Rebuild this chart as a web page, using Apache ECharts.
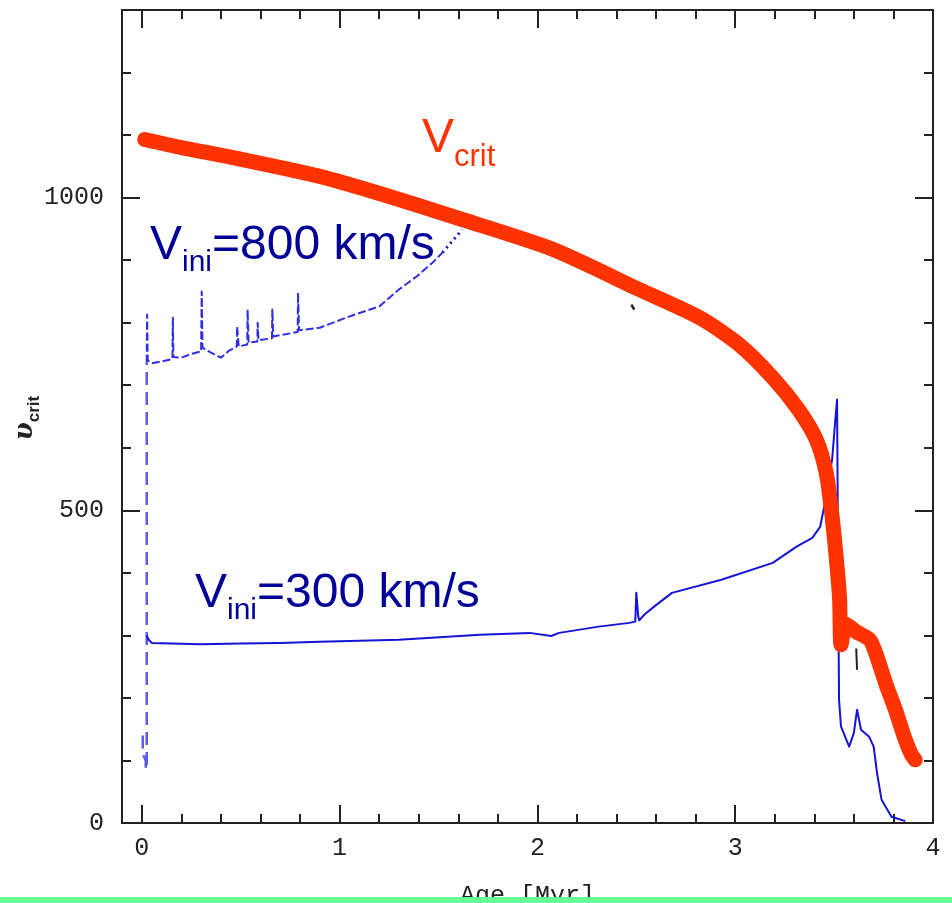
<!DOCTYPE html>
<html>
<head>
<meta charset="utf-8">
<script src="https://cdn.jsdelivr.net/npm/echarts@6/dist/echarts.min.js"></script>
<style>
html, body { margin: 0; padding: 0; background: #fff; }
#chart { width: 952px; height: 903px; }
</style>
</head>
<body>
<div id="chart"></div>
<script>
// age [Myr] / velocity [km/s]
const vcrit = [
    [0.015, 1093], [0.2, 1080], [0.46, 1064], [0.9, 1034], [1.24, 1003], [1.62, 965],
    [2.08, 917], [2.515, 853], [2.82, 808], [3.02, 765], [3.19, 712], [3.32, 661],
    [3.41, 613], [3.46, 560], [3.49, 490], [3.515, 410], [3.528, 357], [3.535, 285],
    [3.56, 318], [3.61, 306], [3.68, 293], [3.71, 272], [3.76, 224], [3.81, 181],
    [3.86, 133], [3.89, 110], [3.91, 101]
];
const vini300 = [
    [0.025, 300], [0.035, 293], [0.05, 288], [0.15, 287], [0.3, 286], [0.5, 287],
    [0.7, 288], [0.9, 290], [1.3, 293], [1.71, 301], [1.96, 304], [2.07, 299],
    [2.11, 304], [2.31, 314], [2.465, 320], [2.495, 322], [2.5, 368], [2.51, 330],
    [2.515, 324], [2.54, 333], [2.59, 346], [2.68, 368], [2.93, 389], [3.19, 416],
    [3.31, 442], [3.39, 456], [3.43, 474], [3.45, 506], [3.49, 581], [3.505, 640],
    [3.515, 677], [3.52, 420], [3.525, 197], [3.535, 154], [3.576, 122], [3.6, 144],
    [3.616, 181], [3.636, 149], [3.677, 138], [3.7, 122], [3.717, 80], [3.74, 37],
    [3.79, 10], [3.86, 3]
];
const vini800Pms = [
    [0.005, 140], [0.005, 110], [0.02, 100], [0.02, 85], [0.025, 90], [0.025, 736]
];
const vini800 = [
    [0.025, 736], [0.027, 813], [0.03, 740], [0.05, 735], [0.1, 738], [0.155, 742],
    [0.157, 808], [0.16, 745], [0.2, 744], [0.25, 750], [0.3, 754], [0.303, 850],
    [0.307, 760], [0.35, 752], [0.4, 744], [0.44, 755], [0.48, 762], [0.482, 794],
    [0.49, 762], [0.533, 765], [0.535, 821], [0.54, 768], [0.584, 770], [0.586, 800],
    [0.59, 772], [0.658, 775], [0.66, 821], [0.665, 778], [0.7, 780], [0.788, 785],
    [0.79, 848], [0.795, 788], [0.9, 792], [1.05, 810], [1.2, 826], [1.3, 853],
    [1.39, 874], [1.47, 896], [1.52, 912]
];
const vini800Tail = [[1.52, 912], [1.62, 949]];
const stray1 = [[2.475, 829], [2.49, 821]];
const stray2 = [[3.612, 279], [3.616, 245]];

const xMajorTicks = [0, 1, 2, 3, 4];
const xMinorTicks = [0.2, 0.4, 0.6, 0.8, 1.2, 1.4, 1.6, 1.8, 2.2, 2.4, 2.6, 2.8, 3.2, 3.4, 3.6, 3.8];
const yMajorTicks = [0, 500, 1000];
const yMinorTicks = [100, 200, 300, 400, 600, 700, 800, 900, 1100, 1200];

const ink = '#222';
const tickFont = { fontFamily: 'Liberation Mono', fontSize: 25, color: ink, formatter: v => String(v) };

function xAx(pos, ticks, len, labels) {
    return {
        type: 'value', position: pos, min: -0.1, max: 4,
        axisLine: { show: true, onZero: false, lineStyle: { color: ink, width: 2 } },
        axisTick: { show: true, inside: true, length: len, customValues: ticks, lineStyle: { color: ink, width: 2 } },
        axisLabel: labels ? Object.assign({ customValues: ticks, margin: 13 }, tickFont) : { show: false },
        splitLine: { show: false }
    };
}
function yAx(pos, ticks, len, labels) {
    return {
        type: 'value', position: pos, min: 0, max: 1300,
        axisLine: { show: true, onZero: false, lineStyle: { color: ink, width: 2 } },
        axisTick: { show: true, inside: true, length: len, customValues: ticks, lineStyle: { color: ink, width: 2 } },
        axisLabel: labels ? Object.assign({ customValues: ticks, margin: 18 }, tickFont) : { show: false },
        splitLine: { show: false }
    };
}

const xAxes = [
    xAx('bottom', xMajorTicks, 18, true),
    xAx('bottom', xMinorTicks, 9, false),
    xAx('top', xMajorTicks, 18, false),
    xAx('top', xMinorTicks, 9, false)
];
xAxes[0].name = 'Age [Myr]';
xAxes[0].nameLocation = 'middle';
xAxes[0].nameGap = 61;
xAxes[0].nameTextStyle = { fontFamily: 'Liberation Mono', fontSize: 25, color: ink };

const yAxes = [
    yAx('left', yMajorTicks, 18, true),
    yAx('left', yMinorTicks, 9, false),
    yAx('right', yMajorTicks, 18, false),
    yAx('right', yMinorTicks, 9, false)
];

function label(text, x, y, color, subSize, pad) {
    return {
        type: 'text', x: x, y: y, z: 100,
        style: {
            text: text, align: 'left', verticalAlign: 'top',
            rich: {
                v: { fontFamily: 'Liberation Sans', fontSize: 48, lineHeight: 48, padding: [0, 0, pad, 0], verticalAlign: 'bottom', fill: color },
                s: { fontFamily: 'Liberation Sans', fontSize: subSize, lineHeight: subSize, verticalAlign: 'bottom', fill: color }
            }
        }
    };
}

const line = (data, color, width, type, z) => ({
    type: 'line', data: data, symbol: 'none', z: z || 2,
    lineStyle: { color: color, width: width, type: type || 'solid', cap: 'butt', join: 'round' }
});

const crit = line(vcrit, '#ff3300', 15, 'solid', 5);
crit.smooth = 0.25;
crit.lineStyle.cap = 'round';

const chart = echarts.init(document.getElementById('chart'));
chart.setOption({
    animation: false,
    backgroundColor: '#fff',
    grid: { left: 122, right: 19, top: 10, bottom: 80, containLabel: false, outerBoundsMode: 'none' },
    xAxis: xAxes,
    yAxis: yAxes,
    series: [
        line(vini800Pms, '#5a5af0', 2.5, [13, 7]),
        line(vini800, '#3030e0', 2, [8, 3]),
        line(vini800Tail, '#1a1aa0', 3, [2, 4]),
        line(vini300, '#1414d6', 2),
        line(stray1, ink, 2.5),
        line(stray2, ink, 2),
        crit
    ],
    graphic: [
        label('{v|V}{s|crit}', 422, 125, '#ff3300', 31, 10),
        label('{v|V}{s|ini}{v|=800 km/s}', 150, 230, '#000099', 30, 8),
        label('{v|V}{s|ini}{v|=300 km/s}', 195, 578, '#000099', 30, 8),
        {
            // y axis title, rotated to read bottom-up
            type: 'text', x: 30, y: 418, rotation: Math.PI / 2, z: 100,
            style: {
                text: '{u|υ}{c|crit}', align: 'center', verticalAlign: 'middle',
                rich: {
                    u: { fontFamily: 'DejaVu Serif', fontStyle: 'italic', fontWeight: 'bold', fontSize: 26, lineHeight: 26, padding: [0, 0, 5, 0], verticalAlign: 'bottom', fill: ink },
                    c: { fontFamily: 'Liberation Sans', fontWeight: 'bold', fontSize: 17, lineHeight: 17, verticalAlign: 'bottom', fill: ink }
                }
            }
        },
        { type: 'rect', shape: { x: 0, y: 897, width: 952, height: 6 }, style: { fill: '#66ff99' }, z: 100 }
    ]
});
</script>
</body>
</html>
